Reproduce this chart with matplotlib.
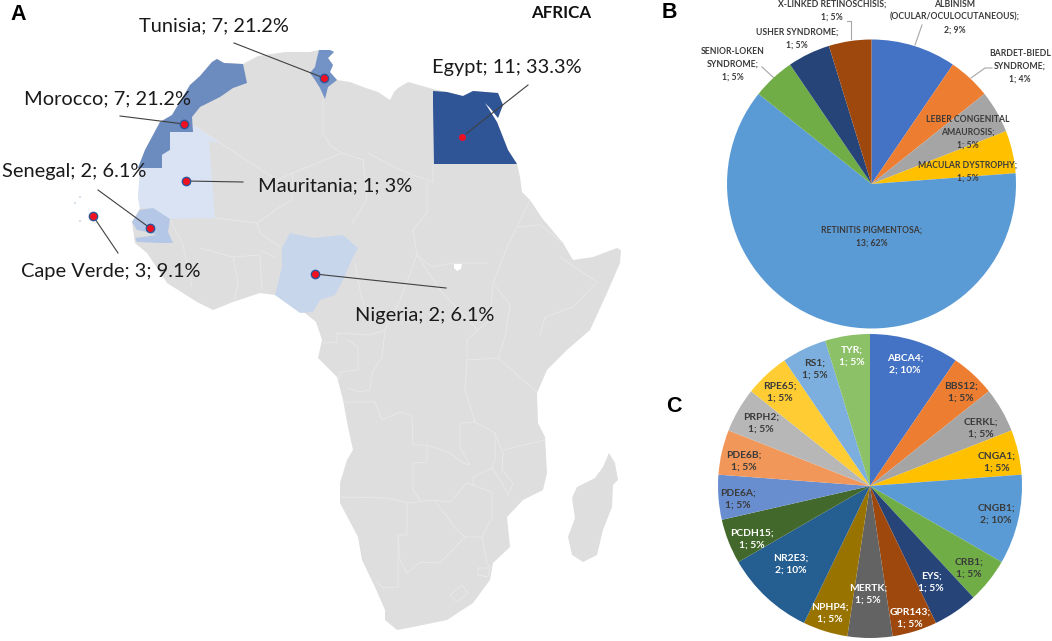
import matplotlib
matplotlib.use("Agg")
import matplotlib.pyplot as plt
from matplotlib.patches import Polygon

W, H = 1052, 641

# ---------- data ----------
countries = ["Tunisia", "Morocco", "Senegal", "Cape Verde", "Mauritania", "Nigeria", "Egypt"]
country_counts = [7, 7, 2, 3, 1, 2, 11]
country_pcts = ["21.2%", "21.2%", "6.1%", "9.1%", "3%", "6.1%", "33.3%"]

diseases = ["ALBINISM\n(OCULAR/OCULOCUTANEOUS)", "BARDET-BIEDL\nSYNDROME", "LEBER CONGENITAL\nAMAUROSIS",
            "MACULAR DYSTROPHY", "RETINITIS PIGMENTOSA", "SENIOR-LOKEN\nSYNDROME", "USHER SYNDROME",
            "X-LINKED RETINOSCHISIS"]
disease_counts = [2, 1, 1, 1, 13, 1, 1, 1]
disease_pcts = ["9%", "4%", "5%", "5%", "62%", "5%", "5%", "5%"]

genes = ["ABCA4", "BBS12", "CERKL", "CNGA1", "CNGB1", "CRB1", "EYS", "GPR143", "MERTK", "NPHP4", "NR2E3",
         "PCDH15", "PDE6A", "PDE6B", "PRPH2", "RPE65", "RS1", "TYR"]
gene_counts = [2, 1, 1, 1, 2, 1, 1, 1, 1, 1, 2, 1, 1, 1, 1, 1, 1, 1]
gene_pcts = ["10%", "5%", "5%", "5%", "10%", "5%", "5%", "5%", "5%", "5%", "10%", "5%", "5%", "5%", "5%", "5%", "5%", "5%"]

# ---------- styles ----------
office = ["#4472C4", "#ED7D31", "#A5A5A5", "#FFC000", "#5B9BD5", "#70AD47", "#264478", "#9E480E", "#636363",
          "#997300", "#255E91", "#43682B", "#698ED0", "#F1975A", "#B7B7B7", "#FFCD33", "#7CAFDD", "#8CC168"]
LAND = "#DEDEDE"
BORDER = "#E9E9E9"
DARK = "#3A3A3A"
SANS = "Lato"

# ---------- map geometry (pixel positions on the picture) ----------
africa = [(138,168),(145,150),(160,122),(172,115),(190,85),(200,76),(212,62),(217,59),(224,63),(243,64),(258,56),
          (285,52),(310,52),(319,50),(330,50),(334,52),(328,58),(333,65),(330,72),(337,80),(350,82),(363,87),(378,92),
          (390,100),(394,92),(398,88),(408,82),(433,89),(447,92),(463,96),(473,91),(498,93),(503,105),(498,118),(490,108),
          (485,103),(497,122),(508,150),(517,164),(520,177),(522,192),(530,200),(542,218),(563,243),(573,260),
          (593,257),(617,248),(621,250),(620,263),(607,293),(590,330),(567,350),(547,370),(537,393),(538,423),(545,437),
          (547,473),(543,490),(523,500),(507,517),(510,547),(493,563),(490,580),(473,603),(447,620),(413,627),
          (397,630),(385,620),(385,610),(375,587),(362,560),(358,537),(340,503),(340,483),(347,460),(353,450),
          (348,427),(343,400),(337,377),(318,358),(322,340),(316,322),(305,313),(275,295),(260,293),(233,302),(213,310),
          (197,302),(167,283),(147,253),(135,243),(132,222),(140,208),(138,197),(140,180)]
madagascar = [(609,453),(615,463),(618,480),(613,485),(612,507),(603,530),(597,555),(583,562),(572,555),(568,537),
              (575,518),(572,498),(577,487),(595,478),(603,467)]
sudan_hole = [(454,264),(462,264),(461,269),(457,271),(454,268)]
borders = [
    [(323,100),(323,133),(330,145),(342,153),(363,160),(367,200),(352,223)],
    [(193,125),(277,180),(293,173),(342,153)],
    [(368,153),(400,170),(433,182),(433,165)],
    [(427,182),(427,213),(413,230),(417,255),(432,267),(453,263),(487,263)],
    [(257,223),(280,207),(292,200),(293,173)],
    [(215,218),(257,223),(260,233),(280,247)],
    [(170,220),(183,245),(192,287)],
    [(200,248),(233,257),(238,283),(234,300)],
    [(233,257),(260,255),(262,290)],
    [(275,257),(260,250)],
    [(355,263),(360,290),(367,317)],
    [(530,200),(517,227),(507,247),(497,273),(493,283),(510,305)],
    [(517,227),(540,225),(563,243)],
    [(560,257),(597,282),(573,307),(545,317),(540,335)],
    [(510,305),(505,337),(498,358),(537,392)],
    [(498,358),(467,360),(467,340),(478,330),(490,320),(493,283)],
    [(417,255),(440,290),(478,330)],
    [(385,330),(382,357),(372,373),(370,390),(360,392),(347,388)],
    [(323,343),(337,342),(337,333),(370,335),(385,330),(400,300),(417,255)],
    [(348,340),(358,347),(358,370),(340,372),(338,382)],
    [(343,402),(375,402),(382,420),(400,412),(412,415),(413,445),(427,445),(427,462),(413,463),(413,490),(420,500)],
    [(340,497),(387,498),(407,503),(433,500),(450,502)],
    [(427,445),(450,453),(463,463),(470,465),(460,448),(460,423),(475,422),(495,433),(495,460),(492,468),(473,477),
     (473,485),(467,483),(450,502)],
    [(467,360),(465,390),(475,422)],
    [(503,450),(545,440)],
    [(495,433),(503,453),(502,470),(513,483),(508,495),(502,483),(492,468)],
    [(473,485),(492,492),(492,517),(482,537),(465,537),(457,530),(435,501)],
    [(407,503),(407,535),(398,535),(400,560),(407,573),(420,562),(440,563),(465,537)],
    [(398,535),(398,587),(383,588),(377,582)],
    [(482,537),(487,563),(491,568)],
    [(450,595),(462,585),(468,593),(457,602),(450,595)],
    [(478,568),(490,568),(488,577),(478,575),(478,568)],
]
morocco = [(138,168),(145,150),(160,122),(172,115),(190,85),(200,76),(212,62),(217,59),(224,63),(243,64),(247,83),
           (233,88),(220,97),(200,107),(192,117),(193,132),(170,132),(170,150),(162,155),(162,168)]
mauritania = [(140,168),(162,168),(162,155),(170,150),(170,132),(193,132),(193,125),(220,143),(209,141),(215,218),
              (170,219),(155,209),(140,208),(138,197)]
senegal = [(132,222),(140,210),(153,208),(170,219),(168,232),(173,243),(160,243),(137,242),(135,238),(157,235),
           (147,232),(137,230)]
nigeria = [(282,248),(290,233),(313,238),(343,235),(358,248),(353,257),(343,280),(335,295),(320,300),(313,312),
           (300,313),(275,295),(282,267)]
tunisia = [(319,50),(330,50),(334,52),(328,58),(333,65),(330,72),(337,80),(328,87),(325,99),(320,88),(315,80),
           (310,73),(315,67),(317,58)]
egypt = [(433,91),(447,92),(463,96),(473,91),(498,93),(503,105),(498,118),(490,108),(485,103),(497,122),(508,150),
         (517,164),(434,164),(433,105)]
shaded = [(morocco,"#6C8BBE"),(mauritania,"#DAE3F3"),(senegal,"#B4C7E7"),(nigeria,"#C8D6EC"),(tunisia,"#7393C6"),
          (egypt,"#2F5597")]

marker_xy = [(324,78),(184,124),(150,228),(93,216),(186,181),(315,274),(462,137)]
leader_from = [(234,43),(120,116),(98,190),(118,253),(243,182),(446,288),(528,85)]
label_xy = [(214,26),(108,99),(74,171),(111,271),(335,186),(425,316),(507,68)]

pie_b_label_xy = [(955,17),(1020,66),(968,132),(968,172),(872,237),(733,64),(797,39),(832,11)]
pie_b_leaders = [[(922,25),(915,45)],[(992,68),(985,68),(971,78)],[(762,67),(774,78)],[(847,21),(851,21),(851,39)]]
pie_c_label_xy = [(905,364),(961,392),(981,428),(997,462),(996,514),(969,568),(931,582),(910,618),(868,594),(830,613),
                  (791,564),(752,539),(738,499),(744,461),(761,423),(780,392),(815,369),(852,356)]
pie_c_white = {"ABCA4","EYS","GPR143","MERTK","NPHP4","NR2E3","PCDH15","TYR"}

# ---------- canvas ----------
fig = plt.figure(figsize=(W/100, H/100), dpi=100, facecolor="white")
ax = fig.add_axes([0, 0, 1, 1])
ax.set_xlim(0, W); ax.set_ylim(H, 0); ax.axis("off")

# map
ax.add_patch(Polygon(africa, closed=True, fc=LAND, ec="none", zorder=1))
ax.add_patch(Polygon(madagascar, closed=True, fc=LAND, ec="none", zorder=1))
for b in borders:
    ax.plot(*zip(*b), color=BORDER, lw=0.6, zorder=2)
ax.add_patch(Polygon(sudan_hole, closed=True, fc="white", ec="none", zorder=2))
for poly, col in shaded:
    ax.add_patch(Polygon(poly, closed=True, fc=col, ec="none", zorder=3))
ax.scatter([75,80,80],[203,221,197],s=[2,2,2],color="#C8D6EC",zorder=3,linewidths=0)

for name, n, pct, m, f, t in zip(countries, country_counts, country_pcts, marker_xy, leader_from, label_xy):
    ax.plot([f[0], m[0]], [f[1], m[1]], color="#404040", lw=0.8, zorder=4)
    ec = "#2F5597"
    ax.plot(m[0], m[1], "o", ms=6, mfc="#F01020", mec=ec, mew=1.0, zorder=5)
    ax.text(t[0], t[1], f"{name}; {n}; {pct}", family=SANS, fontsize=14.4, color="#1a1a1a",
            ha="center", va="center", zorder=6)
ax.text(561, 13, "AFRICA", family=SANS, fontsize=12.2, weight="bold", color="#111111", ha="center", va="center")
for s, x, y in [("A", 18, 15), ("B", 669, 13), ("C", 674, 406)]:
    ax.text(x, y, s, family="Liberation Sans", weight="bold", fontsize=15.5, color="black", ha="center", va="center")

def pie_axes(cx, cy, r):
    a = fig.add_axes([(cx-r)/W, 1-(cy+r)/H, 2*r/W, 2*r/H])
    a.set_xlim(-1, 1); a.set_ylim(-1, 1); a.axis("off")
    return a

# pie B
axb = pie_axes(871.5, 184, 144.5)
axb.pie(disease_counts, colors=office[:8], startangle=90, counterclock=False, radius=1,
        wedgeprops=dict(linewidth=0))
axb.set_xlim(-1, 1); axb.set_ylim(-1, 1)
for seg in pie_b_leaders:
    ax.plot(*zip(*seg), color="#A6A6A6", lw=0.8, zorder=6)

# pie C
axc = pie_axes(870, 486, 152)
axc.pie(gene_counts, colors=office, startangle=90, counterclock=False, radius=1, wedgeprops=dict(linewidth=0))
axc.set_xlim(-1, 1); axc.set_ylim(-1, 1)

# overlay for pie labels
top = fig.add_axes([0, 0, 1, 1], facecolor="none")
top.set_xlim(0, W); top.set_ylim(H, 0); top.axis("off")
for d, n, pct, xy in zip(diseases, disease_counts, disease_pcts, pie_b_label_xy):
    top.text(xy[0], xy[1], f"{d};\n{n}; {pct}", family=SANS, fontsize=6.2, weight="bold", color=DARK,
             ha="center", va="center", linespacing=1.55)
for g, n, pct, xy in zip(genes, gene_counts, gene_pcts, pie_c_label_xy):
    top.text(xy[0], xy[1], f"{g};\n{n}; {pct}", family=SANS, fontsize=7.4, weight="bold",
             color="white" if g in pie_c_white else DARK, ha="center", va="center", linespacing=1.5)

fig.savefig("out.png", dpi=100)
